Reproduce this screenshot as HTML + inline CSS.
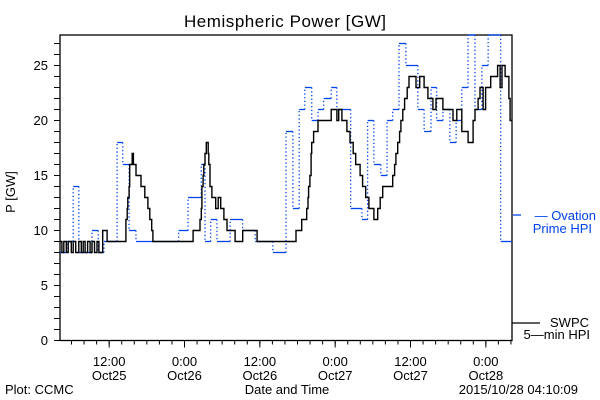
<!DOCTYPE html>
<html><head><meta charset="utf-8"><style>
body{margin:0;background:#fff;}
svg{display:block;font-family:"Liberation Sans",sans-serif;}
</style></head><body>
<svg id="chart" width="600" height="400" viewBox="0 0 600 400">
<text x="285" y="27" font-size="17" text-anchor="middle" textLength="202">Hemispheric Power [GW]</text>
<text transform="translate(15,192) rotate(-90)" font-size="13" text-anchor="middle">P [GW]</text>
<text x="5" y="394" font-size="13">Plot: CCMC</text>
<text x="287" y="394" font-size="13" text-anchor="middle">Date and Time</text>
<text x="578" y="394" font-size="13" text-anchor="end">2015/10/28 04:10:09</text>
<g id="axes"></g>
<g id="series"></g>
<g>
<line x1="513" y1="215" x2="521" y2="215" stroke="#0044ee" stroke-width="1.3"/>
<text x="596" y="220" font-size="13" fill="#0044ee" text-anchor="end">— Ovation</text>
<text x="592" y="233" font-size="13" fill="#0044ee" text-anchor="end">Prime HPI</text>
<line x1="512" y1="323" x2="540" y2="323" stroke="#000" stroke-width="1.3"/>
<text x="589" y="327" font-size="13" text-anchor="end">SWPC</text>
<text x="590" y="339" font-size="13" text-anchor="end">5—min HPI</text>
</g>
</svg>
<script>
// hours since 2015-10-25 04:10
const xTickHours = [7.833, 19.833, 31.833, 43.833, 55.833, 67.833];
const xTickTime = ["12:00","0:00","12:00","0:00","12:00","0:00"];
const xTickDate = ["Oct25","Oct26","Oct26","Oct27","Oct27","Oct28"];
const yTicks = [0,5,10,15,20,25];
const ovationT = [0,1.1,2.1,3.0,5.1,6.1,7.0,9.1,10.0,11.0,12.1,18.9,20.4,22.5,23.1,24.0,25.0,27.1,29.1,31.1,33.9,36.0,37.1,38.1,39.0,40.1,41.1,42.0,43.2,44.1,46.3,48.1,49.0,50.0,51.1,52.1,53.0,54.0,55.1,57.0,58.0,59.1,60.0,61.0,62.1,63.1,64.0,65.0,66.1,67.2,68.2,70.2];
const ovationV = [8,9,14,8,10,8,9,18,16,10,9,10,13,16,9,11,9,11,10,9,8,19,12,21,23,20,21,22,23,21,12,11,20,16,15,20,21,27,25,21,19,23,20,21,18,20,23,28,21,25,28,9];
const swpcT = [0,0.3,0.6,1.0,1.3,1.8,2.1,2.5,3.0,3.4,3.7,4.0,4.4,4.8,5.1,5.5,5.9,6.2,6.8,7.5,10.5,10.7,10.8,11.0,11.1,11.5,11.7,12.1,12.9,13.5,14.0,14.3,14.6,14.8,21.2,22.3,22.5,22.6,22.8,22.9,23.1,23.3,23.6,23.7,23.9,24.2,24.8,25.2,25.6,26.1,26.6,27.9,29.1,31.4,37.6,38.5,39.3,39.5,39.6,39.8,40.0,40.1,40.4,41.1,43.2,44.1,44.4,44.9,45.7,46.2,46.7,47.1,47.8,48.2,48.7,49.2,50.0,50.6,51.0,51.4,53.0,53.3,53.5,53.8,54.1,54.3,54.6,54.9,55.3,55.6,56.7,57.3,58.0,58.6,59.4,59.9,61.0,62.6,63.2,64.0,65.0,65.8,66.1,66.6,66.9,67.4,67.8,68.6,69.7,70.1,70.4,70.9,71.5,71.7];
const swpcV = [9,8,9,8,9,8,9,8,9,8,9,8,9,8,9,8,9,8,10,9,11,12,13,14,16,17,16,15,14,13,12,11,10,9,10,11,12,14,15,16,17,18,17,16,14,13,12,13,12,11,10,9,10,9,10,11,12,13,14,15,17,18,19,20,21,20,21,20,19,18,17,16,15,14,13,12,11,12,13,14,15,16,17,18,19,20,21,22,23,24,23,24,23,22,21,22,21,20,21,19,18,20,21,22,23,21,23,24,25,23,25,24,22,20];
const T_END = 72;
const X0=60, X1=512, Y0=340.5, YTOP=35, UNIT=11;
function sx(h){return X0+h*(X1-X0)/T_END;}
function sy(v){return Math.max(YTOP, Y0-v*UNIT);}
const NS="http://www.w3.org/2000/svg";
function mk(tag,attrs,parent){const e=document.createElementNS(NS,tag);for(const k in attrs)e.setAttribute(k,attrs[k]);parent.appendChild(e);return e;}
const axes=document.getElementById('axes');
const series=document.getElementById('series');
const frame=mk('rect',{x:X0,y:YTOP,width:X1-X0,height:Y0-YTOP,fill:'none',stroke:'#000','stroke-width':1.3},axes);


for(let v=0;v<=27;v++){
  const t=mk('line',{x1:X0-6,x2:X0,y1:sy(v),y2:sy(v),stroke:'#000','stroke-width':1},axes);
  
  
}
yTicks.forEach(v=>{
  const l=mk('text',{x:X0-12,y:sy(v)+4.5,'font-size':13,'text-anchor':'end'},axes);
  l.textContent=v;
  
  
});
for(let h=xTickHours[0]%2;h<=T_END;h+=2){
  const t=mk('line',{x1:sx(h),x2:sx(h),y1:Y0,y2:Y0+4,stroke:'#000','stroke-width':1},axes);
  
  
}
xTickHours.forEach((h,i)=>{
  const t=mk('line',{x1:sx(h),x2:sx(h),y1:Y0,y2:Y0+7,stroke:'#000','stroke-width':1},axes);
  
  
  const a=mk('text',{x:sx(h),y:366,'font-size':13,'text-anchor':'middle'},axes);
  a.textContent=xTickTime[i];
  
  
  const b=mk('text',{x:sx(h),y:380,'font-size':13,'text-anchor':'middle'},axes);
  b.textContent=xTickDate[i];
  
  
});
// Ovation: solid horizontals, dotted verticals
for(let i=0;i<ovationT.length;i++){
  const t0=ovationT[i], t1=(i+1<ovationT.length)?ovationT[i+1]:T_END;
  const h=mk('line',{x1:sx(t0),x2:sx(t1),y1:sy(ovationV[i]),y2:sy(ovationV[i]),stroke:'#0044ee','stroke-width':1.3},series);
  
  
  if(i+1<ovationT.length){
    const v=mk('line',{x1:sx(t1),x2:sx(t1),y1:sy(ovationV[i]),y2:sy(ovationV[i+1]),stroke:'#0044ee','stroke-width':1.3,'stroke-dasharray':'1.3 2.4'},series);
    
    
  }
}
let d='';
for(let i=0;i<swpcT.length;i++){
  const t1=(i+1<swpcT.length)?swpcT[i+1]:T_END;
  d+=(i===0?'M':'L')+sx(swpcT[i]).toFixed(1)+','+sy(swpcV[i]).toFixed(1)+' L'+sx(t1).toFixed(1)+','+sy(swpcV[i]).toFixed(1)+' ';
}
const p=mk('path',{d:d,fill:'none',stroke:'#000','stroke-width':1.4},series);


</script>
</body></html>
